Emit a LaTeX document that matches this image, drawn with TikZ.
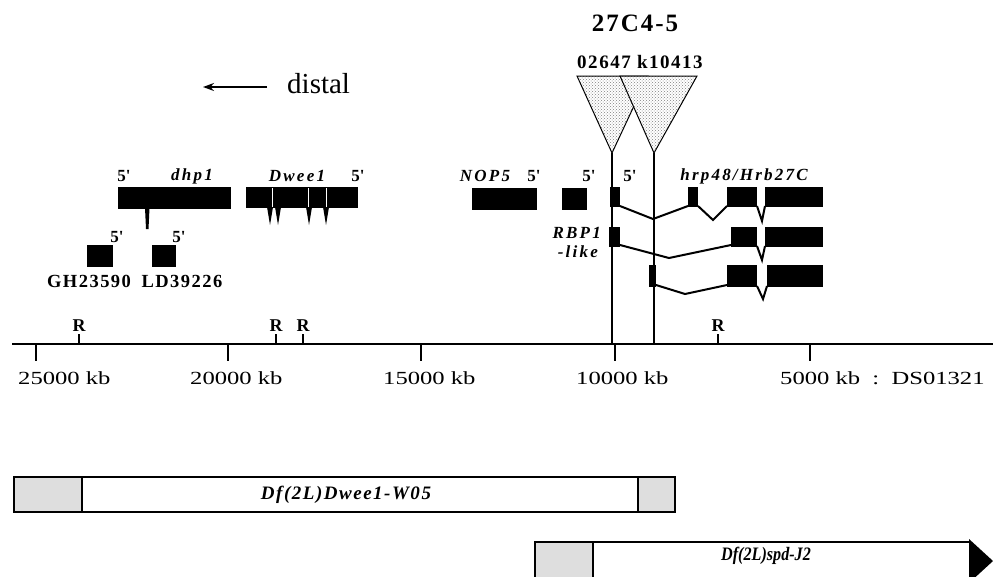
\documentclass[tikz,border=0pt]{standalone}
\usepackage{fontspec}
\usepackage{graphicx}
\setmainfont{Liberation Serif}
\newfontfamily\lsgene[LetterSpace=13]{Liberation Serif}
\newfontfamily\lsnum[LetterSpace=8]{Liberation Serif}
\newfontfamily\lsins[LetterSpace=8]{Liberation Serif}
\newfontfamily\lsbar[LetterSpace=8]{Liberation Serif}
\usetikzlibrary{arrows.meta,patterns}
\newcommand\axl[1]{\scalebox{1.33}[1]{#1}}
\newcommand\pr{5\textquotesingle}
\tikzset{
  gene/.style={inner sep=0pt, font=\lsgene\bfseries\itshape\fontsize{17}{17}\selectfont},
  prime/.style={inner sep=0pt, font=\lsgene\bfseries\fontsize{17}{17}\selectfont},
  rlab/.style={inner sep=0pt, anchor=base, font=\bfseries\fontsize{18}{18}\selectfont},
  clone/.style={inner sep=0pt, font=\lsnum\bfseries\fontsize{18.5}{18.5}\selectfont},
  axlab/.style={inner sep=0pt, anchor=base west, font=\fontsize{18.5}{18.5}\selectfont},
  exon/.style={fill=black},
  intr/.style={draw=black, line width=2pt, line join=miter},
  tri/.style={draw=black, line width=1pt, preaction={fill=white}, pattern=crosshatch dots, pattern color=black!50},
  vline/.style={draw=black, line width=2.2pt},
  tick/.style={draw=black, line width=2.4pt},
  patch/.style={fill=black!13},
  barl/.style={draw=black, line width=2.8pt},
}
\begin{document}
\begin{tikzpicture}[x=1pt,y=-1pt]
\useasboundingbox (0,0) rectangle (993,576);

% ---- top labels
\node[inner sep=0pt, font=\lsnum\bfseries\fontsize{25}{25}\selectfont] (band) at (635,23) {27C4-5};
\node[inner sep=0pt, font=\lsins\bfseries\fontsize{19}{19}\selectfont] (ins) at (640,62) {02647 k10413};

% ---- distal arrow
\coordinate (dA) at (267,87);
\coordinate (dB) at (203,87);
\draw[line width=2pt, -{Stealth[length=11pt,width=8pt]}] (dA) -- (dB);
\node[inner sep=0pt, anchor=base west, font=\fontsize{29}{29}\selectfont] (distal) at (287,93) {distal};

% ---- P-element insertions
\filldraw[tri] (577,76) -- (648,76) -- (612,153) -- cycle;
\filldraw[tri] (620,76) -- (697,76) -- (654,153) -- cycle;
\coordinate (apexA) at (612,153);
\coordinate (apexB) at (654,153);
\coordinate (footA) at (612,344);
\coordinate (footB) at (654,344);

% ---- dhp1
\fill[exon] (118,187) rectangle (231,209);
\fill[exon] (145,208) -- (146,229) -- (148.5,229) -- (149.5,208) -- cycle;
% ---- Dwee1
\fill[exon] (246,187) rectangle (358,208);
\foreach \x in {270,278,309,326} \fill[exon] (\x-3,207) -- (\x,225) -- (\x+3,207) -- cycle;
\foreach \x in {272,308,326} \draw[white, line width=1pt] (\x,188) -- (\x,207);
% ---- ESTs
\fill[exon] (87,245) rectangle (113,267);
\fill[exon] (152,245) rectangle (176,267);
% ---- NOP5 and RBP1-like
\fill[exon] (472,188) rectangle (537,210);
\fill[exon] (562,188) rectangle (587,210);

% ---- hrp48 transcript 1
\fill[exon] (610,187) rectangle (620,207);
\fill[exon] (688,187) rectangle (698,207);
\fill[exon] (727,187) rectangle (757,207);
\fill[exon] (765,187) rectangle (823,207);
\draw[intr] (620,206) -- (653,219) -- (688,206);
\draw[intr] (698,206) -- (713,220) -- (727,206);
\draw[intr] (757,206) -- (762,221) -- (765,206);
% ---- transcript 2
\fill[exon] (609,227) rectangle (620,247);
\fill[exon] (731,227) rectangle (757,247);
\fill[exon] (765,227) rectangle (823,247);
\draw[intr] (620,245) -- (669,258) -- (731,245);
\draw[intr] (757,246) -- (762,260) -- (765,246);
% ---- transcript 3
\fill[exon] (649,265) rectangle (656,287);
\fill[exon] (727,265) rectangle (757,287);
\fill[exon] (767,265) rectangle (823,287);
\draw[intr] (656,285) -- (685,294) -- (727,285);
\draw[intr] (757,286) -- (763,299) -- (767,286);

% ---- insertion lines
\draw[vline] (apexA) -- (footA);
\draw[vline] (apexB) -- (footB);

% ---- gene labels
\node[prime] (p1) at (124,176) {\pr};
\node[gene] (dhp) at (192,176) {dhp1};
\node[gene] (dwee) at (297,176) {Dwee1};
\node[prime] (p2) at (358,176) {\pr};
\node[gene] (nop) at (485,176) {NOP5};
\node[prime] (p3) at (534,176) {\pr};
\node[prime] (p4) at (589,176) {\pr};
\node[prime] (p5) at (630,176) {\pr};
\node[gene] (hrp) at (744,176) {hrp48/Hrb27C};
\node[gene, anchor=east] (rbp) at (601,233) {RBP1};
\node[gene, anchor=east] (like) at (598,252) {-like};
\node[prime] (p6) at (117,237) {\pr};
\node[prime] (p7) at (179,237) {\pr};
\node[clone] (gh) at (89,281) {GH23590};
\node[clone] (ld) at (182,281) {LD39226};

% ---- axis
\coordinate (axL) at (12,344);
\coordinate (axR) at (993,344);
\draw[line width=2.8pt] (axL) -- (axR);
\foreach \x in {36,228,421,615,810} \draw[tick] (\x,344) -- (\x,361);
\foreach \x in {79,276,303,718} \draw[tick] (\x,344) -- (\x,334);
\node[rlab] (r1) at (79,331) {R};
\node[rlab] (r2) at (276,331) {R};
\node[rlab] (r3) at (303,331) {R};
\node[rlab] (r4) at (718,331) {R};
\node[axlab] (k25) at (18,384) {\axl{25000 kb}};
\node[axlab] (k20) at (190,384) {\axl{20000 kb}};
\node[axlab] (k15) at (383,384) {\axl{15000 kb}};
\node[axlab] (k10) at (576,384) {\axl{10000 kb}};
\node[axlab] (k5) at (780,384) {\axl{5000 kb~~:~~DS01321}};

% ---- deficiency 1
\fill[patch] (14,477) rectangle (82,512);
\fill[patch] (638,477) rectangle (675,512);
\draw[barl] (14,477) rectangle (675,512);
\draw[barl] (82,477) -- (82,512);
\draw[barl] (638,477) -- (638,512);
\node[inner sep=0pt, font=\lsbar\bfseries\itshape\fontsize{19}{19}\selectfont] (df1) at (346,495) {Df(2L)Dwee1-W05};

% ---- deficiency 2
\fill[patch] (535,542) rectangle (593,582);
\draw[barl] (971,542) -- (535,542) -- (535,582);
\draw[barl] (593,542) -- (593,582);
\fill[black] (969,539) -- (993,561) -- (969,583) -- cycle;
\node[inner sep=0pt, font=\bfseries\itshape\fontsize{19}{19}\selectfont] (df2) at (766,556) {\scalebox{0.85}[1]{Df(2L)spd-J2}};
\end{tikzpicture}
\end{document}
